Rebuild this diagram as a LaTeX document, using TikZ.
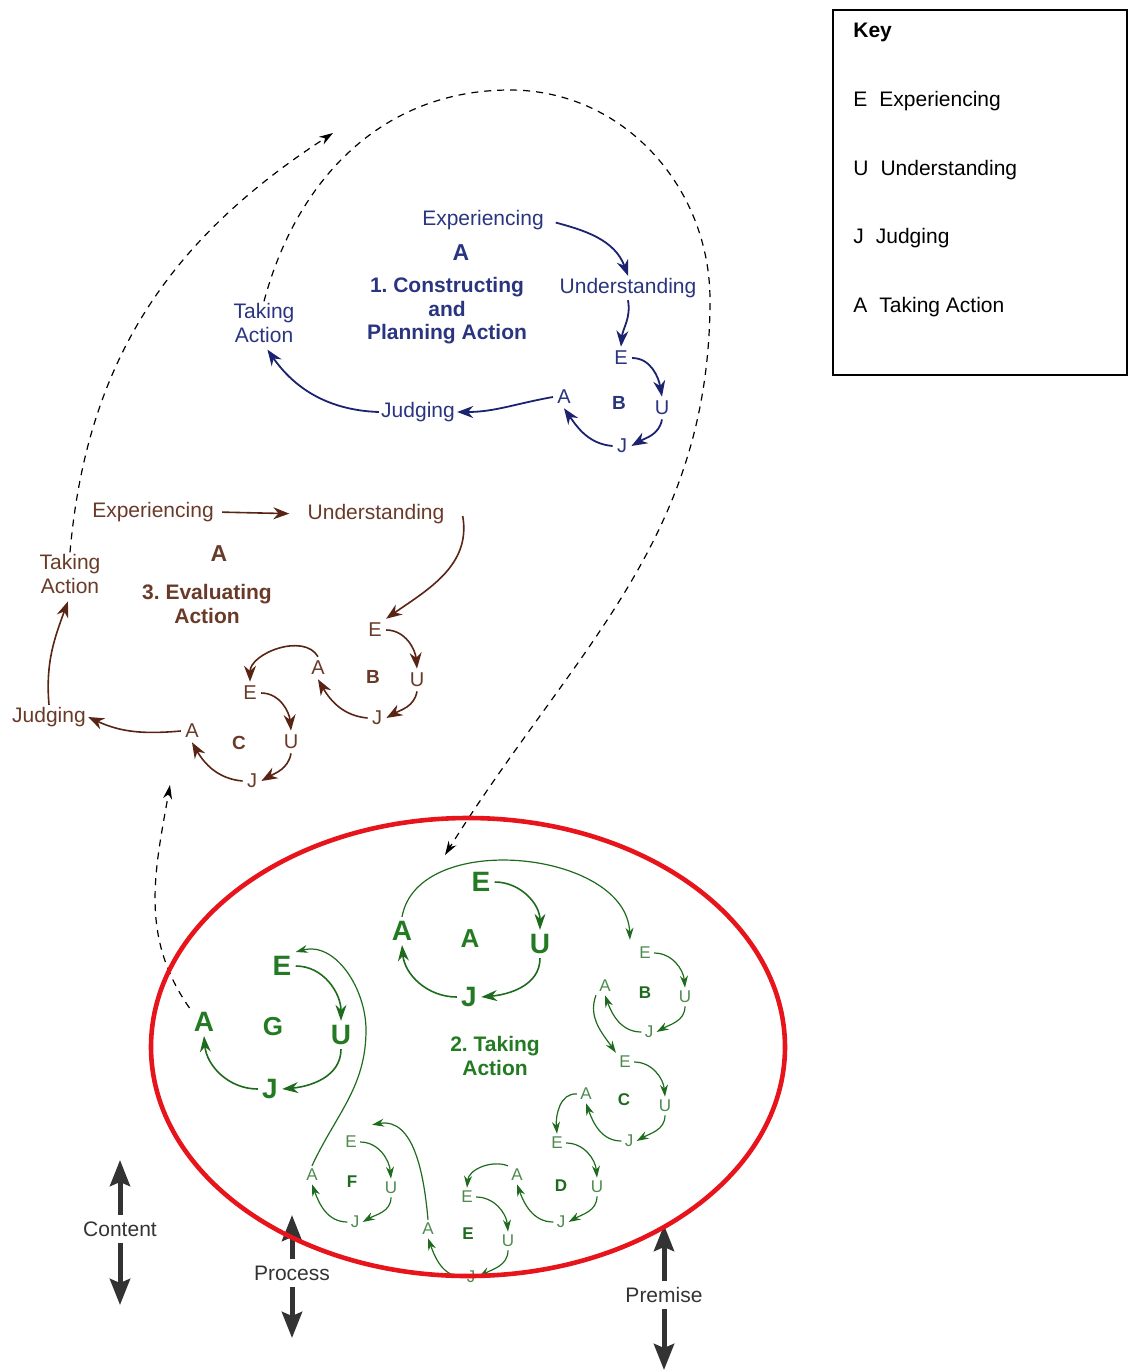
\documentclass[tikz,border=0pt]{standalone}
\usepackage{fontspec}
\setmainfont{Liberation Sans}
\frenchspacing
\usetikzlibrary{arrows.meta}
\definecolor{kcBlue}{HTML}{2A3580}
\definecolor{kcBlueDk}{HTML}{1B2270}
\definecolor{kcBrown}{HTML}{6A3A28}
\definecolor{kcBrownDk}{HTML}{5A2414}
\definecolor{kcGreen}{HTML}{237A23}
\definecolor{kcGreenDk}{HTML}{1E6B1E}
\definecolor{kcGreenLt}{HTML}{4E8A4E}
\definecolor{kcRed}{HTML}{E8141B}
\definecolor{kcGrey}{HTML}{333333}
\tikzset{
  txt/.style={inner sep=1pt,align=center,font=\fontsize{10.5}{11.6}\selectfont},
  ttl/.style={inner sep=1pt,align=center,font=\fontsize{10.5}{11.8}\selectfont\bfseries},
  ltr/.style={inner sep=2pt,font=\fontsize{10}{12}\selectfont},
  ctr/.style={inner sep=2pt,font=\fontsize{9.5}{11}\selectfont\bfseries},
  bigltr/.style={inner sep=2pt,font=\fontsize{14}{16}\selectfont\bfseries,text=kcGreen},
  tinyltr/.style={inner sep=1.5pt,font=\fontsize{8.5}{9}\selectfont,text=kcGreenLt},
  tinyctr/.style={inner sep=1.5pt,font=\fontsize{8.5}{9}\selectfont\bfseries,text=kcGreenDk},
  barr/.style={-{Stealth[length=8pt,width=6pt]},draw=kcBlueDk,line width=0.9pt},
  rarr/.style={-{Stealth[length=8pt,width=6pt]},draw=kcBrownDk,line width=0.8pt},
  garr/.style={-{Stealth[length=8pt,width=5.5pt]},draw=kcGreenDk,line width=0.8pt},
  sgarr/.style={-{Stealth[length=6pt,width=4pt]},draw=kcGreenDk,line width=0.6pt},
  jump/.style={-{Stealth[length=7pt,width=4.5pt]},draw=black,line width=0.6pt,dash pattern=on 3.5pt off 3pt},
  bigarr/.style={-{Stealth[length=13pt,width=10pt,inset=2pt]},draw=kcGrey,line width=2.5pt},
  keytxt/.style={inner sep=0pt,anchor=west,font=\fontsize{10.5}{12}\selectfont},
}
\begin{document}
\begin{tikzpicture}[x=0.5pt,y=0.5pt]
\useasboundingbox (0,0) rectangle (1133,-1372);

\node[draw,line width=0.9pt,minimum width=147pt,minimum height=182.5pt,anchor=north west] (keybox) at (832,-9) {};
\node[keytxt,font=\fontsize{10.5}{12}\selectfont\bfseries] (keyK) at (853,-32) {Key};
\node[keytxt] (keyE) at (853,-101) {E\hspace{6pt}Experiencing};
\node[keytxt] (keyU) at (853,-170) {U\hspace{6pt}Understanding};
\node[keytxt] (keyJ) at (853,-238) {J\hspace{6pt}Judging};
\node[keytxt] (keyA) at (853,-307) {A\hspace{6pt}Taking Action};

\node[txt,text=kcBlue] (bExp) at (483,-220) {Experiencing};
\node[ttl,text=kcBlue,font=\fontsize{11.5}{12}\selectfont\bfseries] (bCyc) at (461,-253) {A};
\node[ttl,text=kcBlue] (bTitle) at (447,-311) {1. Constructing\\and\\Planning Action};
\node[txt,text=kcBlue] (bUnd) at (628,-288) {Understanding};
\node[txt,text=kcBlue] (bTak) at (264,-323) {Taking\\Action};
\node[txt,text=kcBlue] (bJud) at (418,-412) {Judging};
\node[ltr,text=kcBlue] (bE) at (621,-358) {E};
\node[ctr,text=kcBlue] (bB) at (619,-403) {B};
\node[ltr,text=kcBlue] (bU) at (662,-408) {U};
\node[ltr,text=kcBlue] (bJ) at (622,-446) {J};
\node[ltr,text=kcBlue] (bA) at (564,-397) {A};
\draw[barr,shorten <=5pt] (bExp.east) to[out=-15,in=110] (bUnd.north);
\draw[barr] (bUnd.south) to[out=-80,in=85] (bE.north);
\draw[barr] (bE.east) to[out=0,in=100] (bU.north);
\draw[barr] (bU.south) to[out=-100,in=30] (bJ.east);
\draw[barr] (bJ.west) to[out=175,in=-55] (bA.south);
\draw[barr] (bA.west) to[out=190,in=0] (bJud.east);
\draw[barr,shorten >=3pt] (bJud.west) to[out=178,in=-55] (bTak.south);

\node[txt,text=kcBrown] (rExp) at (153,-512) {Experiencing};
\node[txt,text=kcBrown] (rUnd) at (376,-514) {Understanding};
\node[ttl,text=kcBrown,font=\fontsize{11.5}{12}\selectfont\bfseries] (rCyc) at (219,-554) {A};
\node[ttl,text=kcBrown] (rTitle) at (207,-604) {3. Evaluating\\Action};
\node[txt,text=kcBrown] (rTak) at (70,-574) {Taking\\Action};
\node[txt,text=kcBrown] (rJud) at (49,-717) {Judging};
\node[ltr,text=kcBrown] (rBE) at (375,-630) {E};
\node[ctr,text=kcBrown] (rBB) at (373,-677) {B};
\node[ltr,text=kcBrown] (rBU) at (417,-680) {U};
\node[ltr,text=kcBrown] (rBJ) at (377,-718) {J};
\node[ltr,text=kcBrown] (rBA) at (318,-668) {A};
\node[ltr,text=kcBrown] (rCE) at (250,-693) {E};
\node[ctr,text=kcBrown] (rCC) at (239,-743) {C};
\node[ltr,text=kcBrown] (rCU) at (291,-742) {U};
\node[ltr,text=kcBrown] (rCJ) at (252,-781) {J};
\node[ltr,text=kcBrown] (rCA) at (192,-731) {A};
\draw[rarr,shorten <=3pt,shorten >=8pt] (rExp.east) -- (rUnd.west);
\draw[rarr] ([shift={(16,-2)}]rUnd.east) to[out=-80,in=35] (rBE.north east);
\draw[rarr] (rBE.east) to[out=0,in=95] (rBU.north);
\draw[rarr] (rBU.south) to[out=-100,in=30] (rBJ.east);
\draw[rarr] (rBJ.west) to[out=175,in=-60] (rBA.south);
\draw[rarr] (rBA.north) to[out=120,in=90] (rCE.north);
\draw[rarr] (rCE.east) to[out=0,in=95] (rCU.north);
\draw[rarr] (rCU.south) to[out=-100,in=30] (rCJ.east);
\draw[rarr] (rCJ.west) to[out=175,in=-60] (rCA.south);
\draw[rarr] (rCA.west) to[out=185,in=-25] (rJud.east);
\draw[rarr,shorten >=3pt] (rJud.north) to[out=95,in=-110] (rTak.south);

\node[bigltr] (gAE) at (481,-882) {E};
\node[bigltr] (gAU) at (540,-944) {U};
\node[bigltr] (gAJ) at (469,-997) {J};
\node[bigltr] (gAA) at (402,-931) {A};
\node[bigltr,font=\fontsize{13}{14}\selectfont\bfseries] (gAc) at (470,-939) {A};
\node[ttl,text=kcGreen] (gTitle) at (495,-1056) {2. Taking\\Action};
\draw[garr] (gAE.east) to[out=0,in=90] (gAU.north);
\draw[garr] (gAU.south) to[out=-90,in=5] (gAJ.east);
\draw[garr] (gAJ.west) to[out=180,in=-85] (gAA.south);

\node[tinyltr] (gBE) at (645,-953) {E};
\node[tinyltr] (gBU) at (685,-997) {U};
\node[tinyltr] (gBJ) at (649,-1032) {J};
\node[tinyltr] (gBA) at (605,-986) {A};
\node[tinyctr] (gBc) at (645,-993) {B};
\draw[sgarr] (gBE.east) to[out=0,in=95] (gBU.north);
\draw[sgarr] (gBU.south) to[out=-90,in=30] (gBJ.east);
\draw[sgarr] (gBJ.west) to[out=180,in=-70] (gBA.south);

\node[tinyltr] (gCE) at (625,-1062) {E};
\node[tinyltr] (gCU) at (665,-1106) {U};
\node[tinyltr] (gCJ) at (629,-1141) {J};
\node[tinyltr] (gCA) at (586,-1094) {A};
\node[tinyctr] (gCc) at (624,-1100) {C};
\draw[sgarr] (gCE.east) to[out=0,in=95] (gCU.north);
\draw[sgarr] (gCU.south) to[out=-90,in=30] (gCJ.east);
\draw[sgarr] (gCJ.west) to[out=180,in=-70] (gCA.south);

\node[tinyltr] (gDE) at (557,-1143) {E};
\node[tinyltr] (gDU) at (597,-1187) {U};
\node[tinyltr] (gDJ) at (561,-1222) {J};
\node[tinyltr] (gDA) at (517,-1175) {A};
\node[tinyctr] (gDc) at (561,-1186) {D};
\draw[sgarr] (gDE.east) to[out=0,in=95] (gDU.north);
\draw[sgarr] (gDU.south) to[out=-90,in=30] (gDJ.east);
\draw[sgarr] (gDJ.west) to[out=180,in=-70] (gDA.south);

\node[tinyltr] (gEE) at (467,-1197) {E};
\node[tinyltr] (gEU) at (508,-1241) {U};
\node[tinyltr] (gEJ) at (471,-1277) {J};
\node[tinyltr] (gEA) at (428,-1229) {A};
\node[tinyctr] (gEc) at (468,-1234) {E};
\draw[sgarr] (gEE.east) to[out=0,in=95] (gEU.north);
\draw[sgarr] (gEU.south) to[out=-90,in=30] (gEJ.east);
\draw[sgarr] (gEJ.west) to[out=180,in=-70] (gEA.south);

\node[tinyltr] (gFE) at (351,-1142) {E};
\node[tinyltr] (gFU) at (391,-1188) {U};
\node[tinyltr] (gFJ) at (355,-1222) {J};
\node[tinyltr] (gFA) at (312,-1175) {A};
\node[tinyctr] (gFc) at (352,-1182) {F};
\draw[sgarr] (gFE.east) to[out=0,in=95] (gFU.north);
\draw[sgarr] (gFU.south) to[out=-90,in=30] (gFJ.east);
\draw[sgarr] (gFJ.west) to[out=180,in=-70] (gFA.south);

\node[bigltr] (gGE) at (282,-966) {E};
\node[bigltr] (gGU) at (341,-1035) {U};
\node[bigltr] (gGJ) at (270,-1089) {J};
\node[bigltr] (gGA) at (204,-1022) {A};
\node[bigltr,font=\fontsize{13}{14}\selectfont\bfseries] (gGc) at (273,-1027) {G};
\draw[garr] (gGE.east) to[out=0,in=90] (gGU.north);
\draw[garr] (gGU.south) to[out=-90,in=5] (gGJ.east);
\draw[garr] (gGJ.west) to[out=180,in=-85] (gGA.south);

\draw[sgarr] (gAA.north) to[out=80,in=92] ([shift={(-6,4)}]gBE.north west);
\draw[sgarr] (gBA.south west) to[out=-110,in=125] (gCE.north west);
\draw[sgarr] (gCA.west) to[out=175,in=95] (gDE.north);
\draw[sgarr] (gDA.north west) to[out=160,in=85] (gEE.north);
\draw[sgarr] (gEA.north) to[out=95,in=10] ([shift={(12,8)}]gFE.north east);
\draw[sgarr] (gFA.north) to[out=65,in=-90] (366,-1030) to[out=90,in=15] (gGE.north east);

\coordinate (bJump) at (333,-133);
\coordinate (gJump) at (445,-855);
\coordinate (rJump) at (170,-785);
\draw[jump] (bTak.north) to[out=75,in=180] (510,-90) to[out=0,in=90] (710,-300) to[out=-90,in=58] (gJump);
\draw[jump] (rTak.north) to[out=85,in=213] (bJump);
\draw[jump] (gGA.north west) to[out=125,in=-100] (rJump);

\node[txt,inner sep=3pt,text=kcGrey] (cont) at (120,-1229) {Content};
\node[txt,inner sep=3pt,text=kcGrey] (proc) at (292,-1273) {Process};
\node[txt,inner sep=3pt,text=kcGrey] (prem) at (664,-1295) {Premise};
\coordinate (contTop) at (120,-1160);
\coordinate (contBot) at (120,-1305);
\coordinate (procTop) at (292,-1215);
\coordinate (procBot) at (292,-1338);
\coordinate (premTop) at (664,-1225);
\coordinate (premBot) at (664,-1370);
\draw[bigarr] (cont.north) -- (contTop);
\draw[bigarr] (cont.south) -- (contBot);
\draw[bigarr] (proc.north) -- (procTop);
\draw[bigarr] (proc.south) -- (procBot);
\draw[bigarr] (prem.north) -- (premTop);
\draw[bigarr] (prem.south) -- (premBot);

\draw[kcRed,line width=2.3pt] (468,-1047) ellipse [x radius=317,y radius=229];
\end{tikzpicture}
\end{document}
